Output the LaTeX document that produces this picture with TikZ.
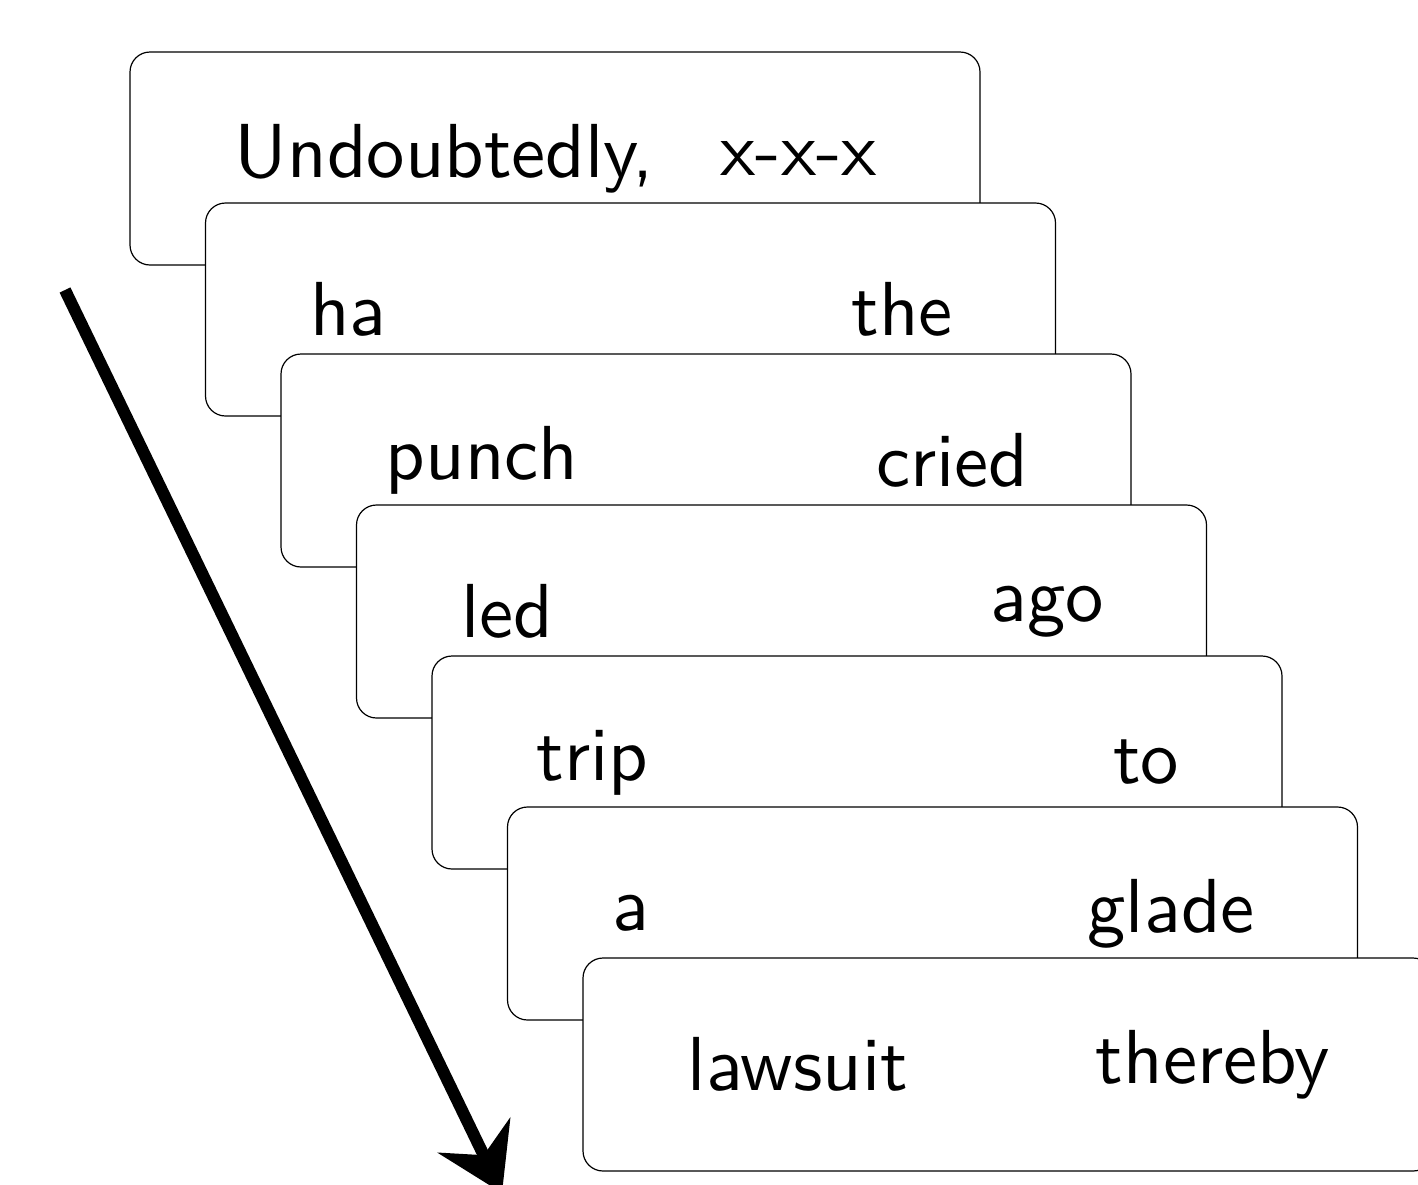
\documentclass[tikz,border=0pt]{standalone}
\usepackage{fontspec}
\setsansfont{lmsans10-regular.otf}
\usetikzlibrary{arrows.meta}
\begin{document}
\begin{tikzpicture}[x=0.5pt,y=-0.5pt,
  card/.style={draw, line width=0.6pt, fill=white, rounded corners=10pt,
    minimum width=425pt, minimum height=106.5pt, inner sep=0pt},
  word/.style={inner sep=0pt, font=\sffamily\fontsize{38.3}{46}\selectfont},
  lword/.style={word, anchor=west},
  rword/.style={word, anchor=east}]
\useasboundingbox (0,0) rectangle (1418,1184);
% arrow
\coordinate (as) at (65,290);
\coordinate (ae) at (502,1193);
\draw[line width=6pt, -{Stealth[length=32pt,width=40pt,inset=11pt]}] (as) -- (ae);
% cards
\node[card] (c1) at (555,158.5) {};
\node[lword] (c1l) at ([xshift=52.5pt]c1.west) {Undoubtedly,};
\node[rword] (c1r) at ([xshift=-51.5pt]c1.east) {x-x-x};
\node[card] (c2) at (630.5,309.5) {};
\node[lword] (c2l) at ([xshift=52.5pt]c2.west) {ha};
\node[rword] (c2r) at ([xshift=-51.5pt]c2.east) {the};
\node[card] (c3) at (706,460.5) {};
\node[lword] (c3l) at ([xshift=52.5pt]c3.west) {punch};
\node[rword] (c3r) at ([xshift=-51.5pt]c3.east) {cried};
\node[card] (c4) at (781.5,611.5) {};
\node[lword] (c4l) at ([xshift=52.5pt]c4.west) {led};
\node[rword] (c4r) at ([xshift=-51.5pt]c4.east) {ago};
\node[card] (c5) at (857,762.5) {};
\node[lword] (c5l) at ([xshift=52.5pt]c5.west) {trip};
\node[rword] (c5r) at ([xshift=-51.5pt]c5.east) {to};
\node[card] (c6) at (932.5,913.5) {};
\node[lword] (c6l) at ([xshift=52.5pt]c6.west) {a};
\node[rword] (c6r) at ([xshift=-51.5pt]c6.east) {glade};
\node[card] (c7) at (1008,1064.5) {};
\node[lword] (c7l) at ([xshift=52.5pt]c7.west) {lawsuit};
\node[rword] (c7r) at ([xshift=-51.5pt]c7.east) {thereby};
\end{tikzpicture}
\end{document}
